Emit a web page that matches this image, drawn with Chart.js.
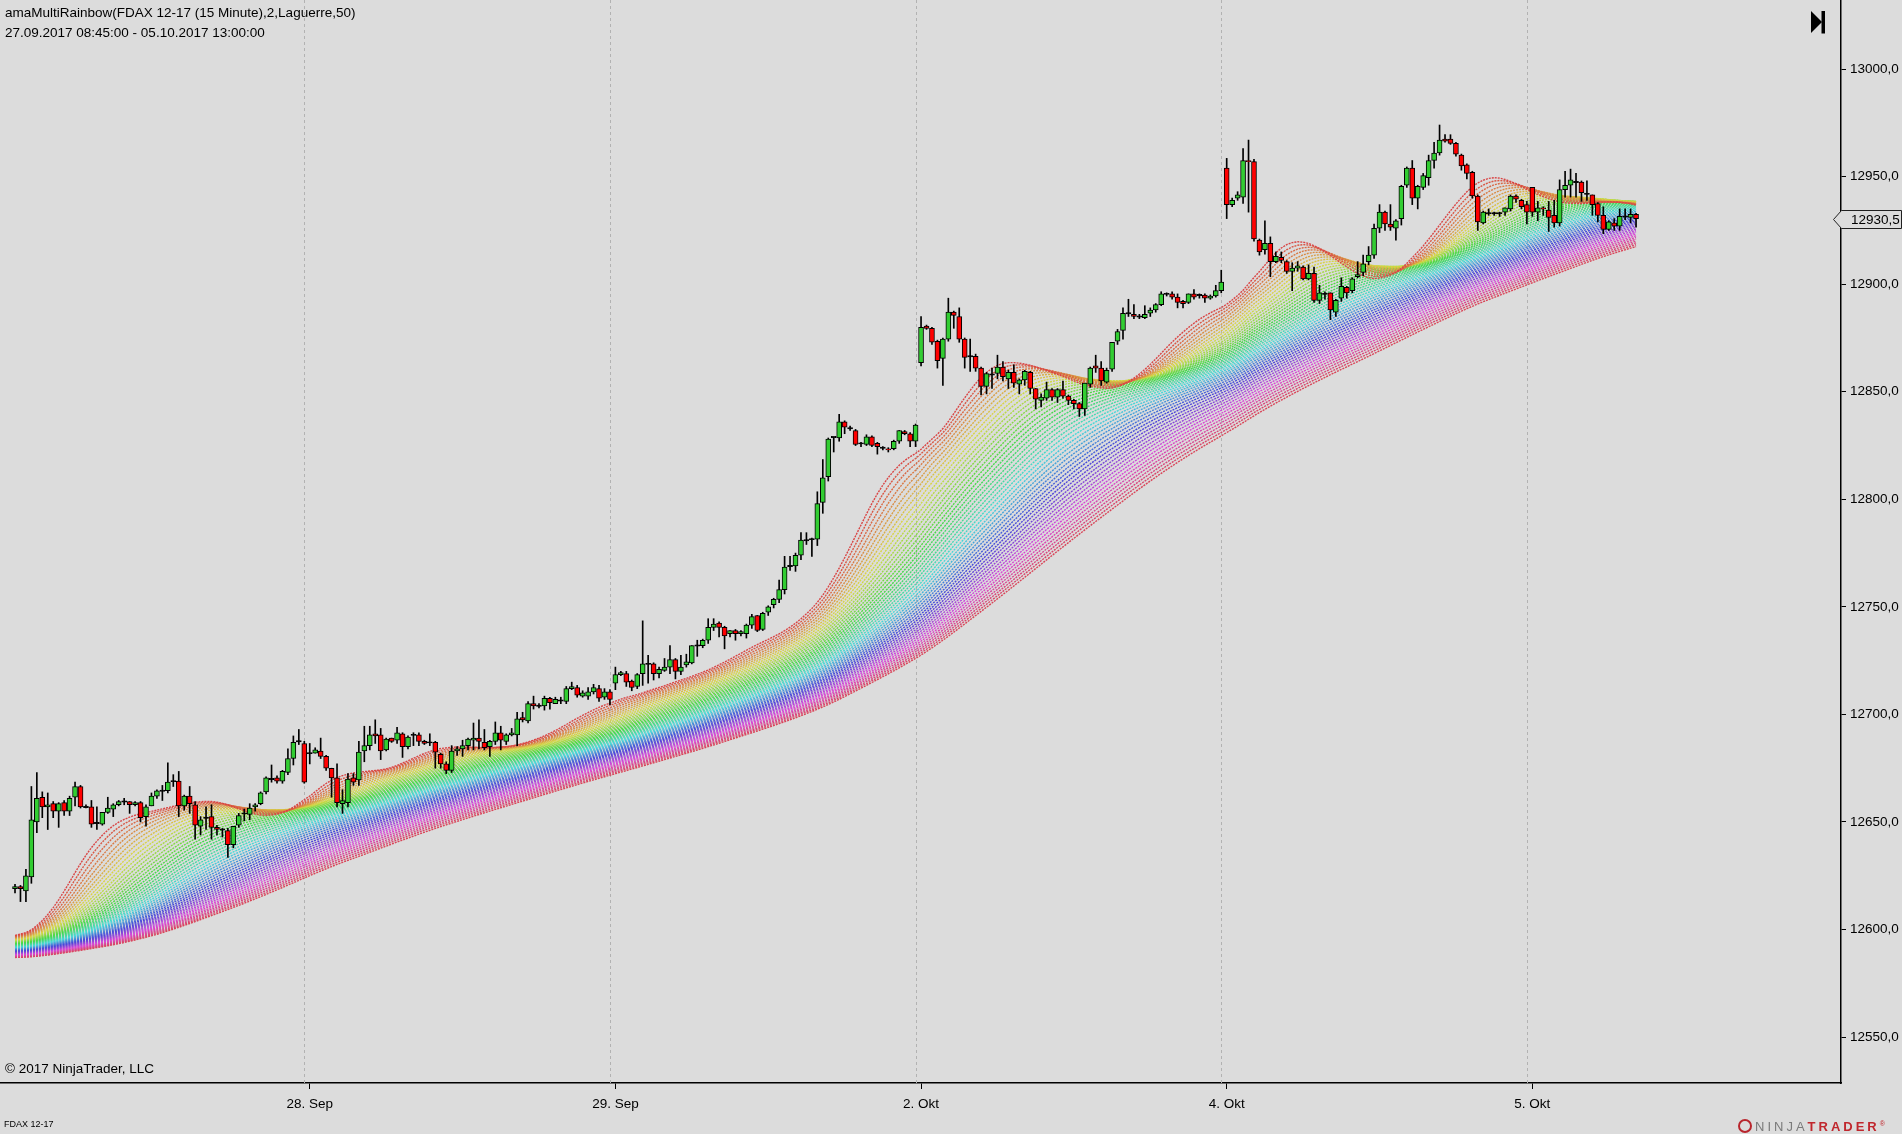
<!DOCTYPE html>
<html>
<head>
<meta charset="utf-8">
<script src="https://cdn.jsdelivr.net/npm/chart.js@4.4.0/dist/chart.umd.min.js"></script>
<style>
html,body{margin:0;padding:0;background:#dcdcdc;}
#wrap{position:relative;width:1902px;height:1134px;overflow:hidden;background:#dcdcdc;}
#c{position:absolute;left:0;top:0;width:1902px;height:1134px;}
.t{position:absolute;font-family:"Liberation Sans",Arial,sans-serif;color:#000;white-space:nowrap;line-height:15px;}
</style>
</head>
<body>
<div id="wrap">
<canvas id="c" width="1902" height="1134"></canvas>
<div class="t" style="left:5px;top:5px;font-size:13.5px;">amaMultiRainbow(FDAX 12-17 (15 Minute),2,Laguerre,50)</div>
<div class="t" style="left:5px;top:25px;font-size:13.5px;">27.09.2017 08:45:00 - 05.10.2017 13:00:00</div>
<div class="t" style="left:5px;top:1061px;font-size:13.5px;">© 2017 NinjaTrader, LLC</div>
<div class="t" style="left:4px;top:1118px;font-size:9px;line-height:12px;">FDAX 12-17</div>
<div class="t" style="left:1738px;top:1116px;font-size:13px;line-height:16px;letter-spacing:3px;">
<span style="display:inline-block;width:14px;height:14px;border-radius:7px;border:2px solid #b8252c;box-sizing:border-box;vertical-align:-2px;margin-right:3px;"></span><span style="color:#7a7a7a;">NINJA</span><span style="color:#c0272d;font-weight:bold;">TRADER</span><sup style="font-size:7px;color:#c0272d;letter-spacing:0">®</sup>
</div>
</div>
<script>
// ---------- data (15-minute FDAX 12-17 bars, 27.09.2017 08:45 - 05.10.2017 13:00) ----------
const opens = [
12619,12620,12618,12624.5,12650,12661.5,12657,12658.5,12655,12659,
12655,12661.5,12666.5,12657,12657,12649.5,12649,12654.5,12656,12658,
12659.5,12659.5,12658,12659,12652.5,12657.5,12662,12664.5,12664.5,12669,
12669,12657.5,12662,12658,12648,12652,12652.5,12647.5,12646.5,12646,
12639.5,12648.5,12654,12653.5,12657,12658.5,12664,12670,12670.5,12669,
12673,12679.5,12687.5,12686.5,12682,12682,12683,12680.5,12675,12670.5,
12658.5,12659,12670.5,12669.5,12683,12685.5,12691,12690.5,12683.5,12689,
12688,12691,12685,12690.5,12690.5,12687.5,12687,12687,12681.5,12677,
12674,12683,12684,12685.5,12688,12689,12687,12685,12687.5,12691.5,
12687.5,12690.5,12690.5,12698.5,12697,12705,12704,12704,12707.5,12705,
12706.5,12706,12712,12712.5,12708.5,12708.5,12710.5,12712,12708,12710.5,
12714.5,12718.5,12719,12715.5,12713,12719,12723.5,12723.5,12719,12720.5,
12722,12725.5,12720,12723,12724,12732,12732,12734.5,12740.5,12742.5,
12740.5,12737.5,12739,12737.5,12737.5,12741.5,12746,12739.5,12747.5,12751,
12753.5,12758,12769,12769,12774,12781,12781.5,12781.5,12798.5,12810.5,
12829,12828.5,12836,12833,12832,12826,12825.5,12829,12826,12824,
12823.5,12823.5,12827,12831.5,12830.5,12827,12863.5,12880.5,12879.5,12873.5,
12865.5,12874.5,12887,12885,12874.5,12866.5,12866.5,12861,12852.5,12858,
12858.5,12861.5,12856,12859,12853.5,12855.5,12859,12851.5,12846,12847,
12851,12847.5,12851,12848,12846,12844.5,12842,12853.5,12862,12861,
12854.5,12860.5,12873.5,12878.5,12886.5,12886,12885,12884.5,12886.5,12888,
12890.5,12895.5,12895.5,12894,12892,12891.5,12895.5,12895,12895,12893.5,
12894.5,12897,12954,12937,12940,12940.5,12957.5,12957,12920.5,12916,
12919,12910.5,12912.5,12910.5,12906,12907.5,12908,12902.5,12905,12892.5,
12895.5,12896,12887,12893.5,12898.5,12897,12903.5,12905.5,12910.5,12913.5,
12926,12933.5,12928,12926,12930.5,12946,12954,12940,12945,12949.5,
12957.5,12961,12967.5,12967.5,12965.5,12960,12955.5,12952,12941,12928.5,
12933,12933,12933,12933.5,12935,12941,12939,12937,12945,12933.5,
12935.5,12934.5,12932,12928.5,12944,12946,12947.5,12947.5,12942,12941.5,
12937.5,12932,12925.5,12928.5,12927,12931.5,12931,12932.5];
const highs = [
12621,12620.5,12628,12666.5,12673,12664,12663.5,12659.5,12659,12660,
12662,12668.5,12667,12658,12660,12657,12654.5,12661.5,12658.5,12660,
12661,12659.5,12659.5,12659.5,12658,12663.5,12665,12667,12677.5,12672,
12673.5,12662.5,12666.5,12659.5,12652.5,12657,12658,12648.5,12647,12647,
12648,12654,12656,12658.5,12658.5,12664,12671,12676.5,12671.5,12674,
12684,12690,12693,12687.5,12686.5,12684.5,12689,12681,12675,12677,
12665,12672.5,12672.5,12687.5,12694.5,12694.5,12697.5,12693.5,12689,12689,
12694,12691.5,12690,12691.5,12691.5,12688,12691,12687.5,12682,12678,
12685.5,12685,12688,12689,12696,12697.5,12693,12688,12696.5,12694.5,
12691,12693.5,12701,12701,12706,12708.5,12705,12708.5,12708,12708,
12708,12713,12715,12713.5,12711,12712.5,12714,12713.5,12712,12711.5,
12722,12720,12720,12716,12719,12743.5,12727.5,12724,12722,12726,
12732,12726,12727.5,12728,12732,12734.5,12735,12744.5,12744.5,12743,
12741,12739,12739.5,12739,12742,12746.5,12746,12747.5,12750.5,12754,
12762.5,12773.5,12773.5,12775,12784.5,12784.5,12782,12803.5,12818.5,12828.5,
12829,12839.5,12836.5,12834,12832.5,12826.5,12830,12829.5,12826.5,12824.5,
12824,12827.5,12832,12832,12831,12835,12885,12881,12880,12874,
12875,12893.5,12887.5,12889,12875,12874.5,12867.5,12861.5,12859,12861,
12867,12864,12860,12862.5,12856,12860,12859.5,12851.5,12849,12854.5,
12851.5,12851.5,12855,12848.5,12846.5,12845,12854,12861.5,12867,12864,
12861,12873,12879,12889,12893,12890.5,12886,12890,12889,12891,
12896.5,12896,12896.5,12895.5,12892.5,12895.5,12897.5,12895.5,12895.5,12895,
12899.5,12906.5,12958.5,12940,12943,12963,12967,12958,12921,12929.5,
12922,12915,12915,12911,12910,12910.5,12908.5,12909,12908,12899.5,
12896.5,12896,12893,12903,12899,12903,12910.5,12913.5,12917.5,12928,
12937,12934,12937,12930,12946,12954.5,12957.5,12946,12951.5,12960,
12966,12974,12969.5,12969.5,12966,12960.5,12956,12952.5,12941.5,12934,
12935,12933.5,12933.5,12935.5,12941.5,12941.5,12939.5,12938.5,12945,12938.5,
12936,12938.5,12939,12948.5,12952.5,12953.5,12951.5,12948,12948,12941.5,
12938,12936,12929.5,12930.5,12935,12935,12935,12933];
const lows = [
12617,12613,12613,12621.5,12645,12652,12646.5,12652,12647.5,12653,
12653,12657.5,12656.5,12656.5,12647.5,12646.5,12648.5,12654,12652.5,12657.5,
12658,12654,12657.5,12650,12648,12657.5,12661,12660,12663.5,12666.5,
12652.5,12655.5,12654,12642,12644,12646.5,12642,12644,12643,12633.5,
12638,12647.5,12650.5,12651,12655,12658,12663,12668.5,12668,12668,
12672,12676.5,12686,12668,12677,12682,12679.5,12674,12661.5,12657,
12654,12657,12667,12667,12678,12683.5,12686.5,12679,12683,12687,
12686.5,12680,12684,12685.5,12685.5,12686,12685.5,12675,12675,12672.5,
12673,12681,12680.5,12683.5,12683.5,12684,12683.5,12680.5,12686,12683.5,
12686,12690,12685.5,12696.5,12696,12702.5,12703,12702,12702.5,12705,
12705,12705,12711.5,12708,12708,12707,12709.5,12706,12707,12704.5,
12711.5,12718,12713,12711,12712,12713.5,12714.5,12716,12717,12720,
12719,12716.5,12718.5,12722,12723.5,12727,12731,12733,12739,12736,
12730.5,12736,12734.5,12736.5,12735.5,12740,12738.5,12739,12746,12749.5,
12752,12756,12767,12766.5,12772,12779,12773.5,12778.5,12793.5,12808.5,
12822,12827,12830.5,12832,12825,12824.5,12825,12824.5,12821,12823,
12822,12823,12826,12830,12824.5,12824.5,12862,12879,12872,12861,
12853,12873.5,12879.5,12873,12861,12859.5,12859.5,12848.5,12849,12851.5,
12856,12855,12851.5,12852,12849,12853,12849,12842,12843,12846,
12846,12845,12847,12844,12842,12838.5,12839,12852,12859,12853,
12854,12859.5,12872,12874.5,12885,12884,12884,12884,12885,12887,
12890,12894.5,12893,12889,12889,12891,12893,12893.5,12891.5,12893,
12894,12896,12930.5,12936,12939,12937.5,12933.5,12920,12913.5,12914,
12903.5,12910,12910,12905,12897,12906,12902,12902,12891.5,12891,
12893,12883.5,12885,12892,12893.5,12896,12903,12904,12909,12912,
12924,12925,12925,12920.5,12927.5,12945,12937,12935,12944,12946,
12954,12960,12966,12965,12959.5,12953,12949,12940,12925,12928,
12932,12932,12931.5,12932,12934,12938,12935,12928,12931.5,12929.5,
12932,12924.5,12926.5,12927,12940.5,12940.5,12940.5,12938.5,12939,12932,
12929,12923.5,12925,12925,12925,12930,12928.5,12926.5];
const closes = [
12620,12619,12625,12651,12661,12657,12658,12655,12658.5,12655,
12661,12666.5,12657,12657,12649,12649.5,12654.5,12656.5,12658,12659.5,
12659.5,12658,12659,12652,12657,12662,12664.5,12664.5,12668.5,12669,
12657.5,12662,12658.5,12648.5,12651,12652,12647.5,12646.5,12646.5,12639.5,
12648,12653,12654,12656.5,12658,12663.5,12670.5,12670,12669,12673.5,
12679.5,12687,12687.5,12668.5,12682,12683.5,12680.5,12675,12670.5,12659,
12660,12670,12668.5,12682.5,12685.5,12690.5,12690,12683,12688.5,12687.5,
12691.5,12685,12689.5,12690.5,12687.5,12686.5,12687,12682.5,12677,12674,
12683,12684,12685.5,12688.5,12689,12687.5,12684.5,12687.5,12691.5,12688,
12690.5,12691.5,12698,12697.5,12705,12704,12704,12707.5,12705.5,12707,
12706.5,12712,12713,12709,12710,12710.5,12712.5,12707.5,12710.5,12707,
12718.5,12719.5,12715,12712.5,12718.5,12723.5,12723.5,12719,12721,12722,
12725.5,12720,12722,12724.5,12732,12732,12734.5,12740.5,12742,12740.5,
12736.5,12739,12737.5,12738.5,12741.5,12745.5,12739,12747,12750,12753.5,
12758,12768.5,12769,12774,12781,12781,12781.5,12798,12810,12828,
12829,12836,12833.5,12833,12825.5,12826,12829,12825,12824.5,12824,
12823,12827,12832,12830.5,12827,12834.5,12880,12879.5,12873,12864.5,
12874.5,12887,12885.5,12874.5,12866,12866.5,12861,12852.5,12858.5,12858,
12861.5,12857,12859,12854,12855.5,12859.5,12851.5,12846.5,12847.5,12851,
12847.5,12851,12848,12846,12844.5,12842,12854,12861,12861,12855,
12860,12873,12878,12886.5,12886.5,12885,12885,12886,12888,12890.5,
12895.5,12895.5,12894,12891.5,12891,12895.5,12894,12895,12893.5,12894.5,
12897,12901,12937,12939,12941.5,12957.5,12957,12921,12915,12919,
12910.5,12913,12911,12906,12907.5,12908.5,12902.5,12905,12892.5,12896,
12895.5,12888,12892.5,12899,12896,12902.5,12904.5,12909.5,12913.5,12926,
12933.5,12928,12926.5,12929.5,12945.5,12954,12940,12945.5,12950.5,12957.5,
12961,12967,12966.5,12965.5,12960.5,12955,12951.5,12941,12929,12933.5,
12933,12933,12933,12935.5,12941,12939.5,12936,12933.5,12933.5,12935.5,
12935,12931,12928.5,12944,12946,12948.5,12947.5,12942.5,12942,12937,
12932,12925.5,12929,12927,12931.5,12931.5,12932.5,12930.5];

// session boundaries (bar index) and x-axis labels
const dayEndIdx   = [53, 109, 165, 221, 277];
const dayStartIdx = [54, 110, 166, 222, 278];
const dayLabels   = ["28. Sep", "29. Sep", "2. Okt", "4. Okt", "5. Okt"];
const priceTicks  = [12550,12600,12650,12700,12750,12800,12850,12900,12950,13000];

// indicator settings: 50 Laguerre filters, fastest -> slowest lag (bars), starting levels
const rainbowCount = 50;
const rainbowLag   = [10.5, 54];
const rainbowStart = [12597, 12587];

// ---------- indicator ----------
function laguerre(src, g, init){
  let l0=init,l1=init,l2=init,l3=init; const out=[];
  for(const p of src){
    const p0=l0,p1=l1,p2=l2;
    l0=(1-g)*p+g*p0;
    l1=-g*l0+p0+g*l1;
    l2=-g*l1+p1+g*l2;
    l3=-g*l2+p2+g*l3;
    out.push((l0+2*l1+2*l2+l3)/6);
  }
  return out;
}
const n = Math.min(opens.length, highs.length, lows.length, closes.length);
const datasets = [];
for(let k=0;k<rainbowCount;k++){
  const f = k/(rainbowCount-1);
  const lag = rainbowLag[0] + (rainbowLag[1]-rainbowLag[0])*f;
  const g = (lag-1.5)/(lag+2.5);
  const init = rainbowStart[0] + (rainbowStart[1]-rainbowStart[0])*f;
  const vals = laguerre(closes.slice(0,n), g, init);
  const hue = 352*f;
  datasets.push({
    type:'line', data: vals.map((v,i)=>({x:i,y:v})),
    borderColor:`hsl(${hue.toFixed(1)},66%,56%)`, borderWidth:1.4, borderDash:[2,1],
    pointRadius:0, fill:false, tension:0, order:10+k
  });
}
const wickData=[], bodyData=[], bodyColors=[];
for(let i=0;i<n;i++){
  wickData.push({x:i,y:[lows[i],highs[i]]});
  const o=opens[i], c=closes[i];
  if(c>o){ bodyData.push({x:i,y:[o,c]}); bodyColors.push('#32cd32'); }
  else if(c<o){ bodyData.push({x:i,y:[c,o]}); bodyColors.push('#ff0000'); }
  else { bodyData.push({x:i,y:[o-0.3,o+0.3]}); bodyColors.push('#000000'); }
}
datasets.push({type:'bar', data:wickData, backgroundColor:'#000', borderWidth:0, barThickness:1, grouped:false, order:2});
datasets.push({type:'bar', data:bodyData, backgroundColor:bodyColors, borderColor:'#000', borderWidth:1, borderSkipped:false, barThickness:5, grouped:false, order:1});

const fmt = v => v.toFixed(1).replace('.', ',');
const FONT = '"Liberation Sans", Arial, sans-serif';

const sessionGrid = {
  id:'sessionGrid',
  beforeDatasetsDraw(chart){
    const ctx=chart.ctx, xs=chart.scales.x, a=chart.chartArea;
    ctx.save();
    ctx.strokeStyle='#b2b2b2'; ctx.lineWidth=1; ctx.setLineDash([3,3]);
    for(const idx of dayEndIdx){
      const x=Math.round(xs.getPixelForValue(idx))+0.5;
      ctx.beginPath(); ctx.moveTo(x,a.top); ctx.lineTo(x,a.bottom); ctx.stroke();
    }
    ctx.restore();
  }
};
const overlay = {
  id:'overlay',
  afterDraw(chart){
    const ctx=chart.ctx, ya=chart.scales.y, x0=chart.chartArea.right;
    const last=closes[n-1], y=Math.round(ya.getPixelForValue(last))+0.5;
    ctx.save();
    ctx.beginPath();
    ctx.moveTo(x0-7.5,y); ctx.lineTo(x0+0.5,y-9); ctx.lineTo(1901.5,y-9); ctx.lineTo(1901.5,y+9); ctx.lineTo(x0+0.5,y+9); ctx.closePath();
    ctx.fillStyle='#dcdcdc'; ctx.fill(); ctx.strokeStyle='#202020'; ctx.lineWidth=1; ctx.stroke();
    ctx.fillStyle='#000'; ctx.font='13.5px '+FONT; ctx.textBaseline='middle'; ctx.textAlign='left';
    ctx.fillText(fmt(last), x0+10, y+0.5);
    ctx.beginPath(); ctx.moveTo(1811,11); ctx.lineTo(1822,22); ctx.lineTo(1811,33); ctx.closePath(); ctx.fillStyle='#000'; ctx.fill();
    ctx.fillRect(1821.5,11,3.5,22.5);
    ctx.restore();
  }
};

new Chart(document.getElementById('c'), {
  data:{datasets},
  options:{
    responsive:false, animation:false, maintainAspectRatio:false,
    layout:{padding:0},
    plugins:{legend:{display:false}, tooltip:{enabled:false}},
    events:[],
    scales:{
      x:{type:'linear', position:'bottom', min:-2.75, max:334.55, offset:false,
        afterBuildTicks:s=>{ s.ticks = dayStartIdx.map(v=>({value:v})); },
        afterFit:s=>{ s.height=51; s.paddingLeft=0; s.paddingRight=0; },
        grid:{offset:false, drawOnChartArea:false, drawTicks:true, tickLength:6, color:'#000', lineWidth:1},
        border:{display:true, color:'#000', width:1.5},
        ticks:{autoSkip:false, maxRotation:0, minRotation:0, padding:7, color:'#000', font:{family:FONT, size:13.5},
          callback:(v,i)=>dayLabels[i]}
      },
      y:{type:'linear', position:'right', min:12528.66, max:13032.12, offset:false,
        afterBuildTicks:s=>{ s.ticks = priceTicks.map(v=>({value:v})); },
        afterFit:s=>{ s.width=61; s.paddingTop=0; s.paddingBottom=0; },
        grid:{drawOnChartArea:false, drawTicks:true, tickLength:5, color:'#000'},
        border:{display:true, color:'#000', width:1.5},
        ticks:{padding:4, color:'#000', font:{family:FONT, size:13.5}, callback:v=>fmt(v)}
      }
    }
  },
  plugins:[sessionGrid, overlay]
});
</script>
</body>
</html>
